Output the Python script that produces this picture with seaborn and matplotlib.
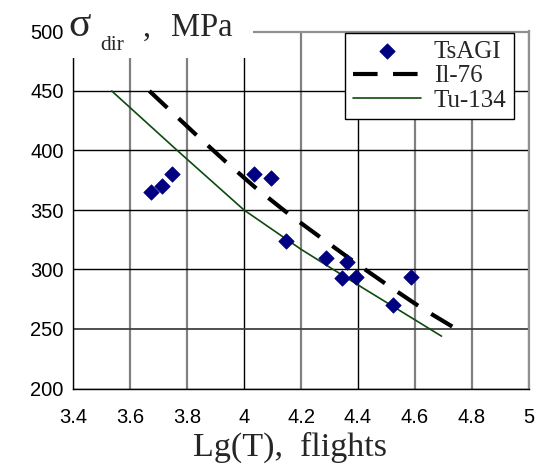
import matplotlib
matplotlib.use("Agg")
import matplotlib.pyplot as plt
import seaborn as sns
import pandas as pd
from matplotlib.patches import Rectangle

# ---- data ----
tsagi_x = [3.672, 3.711, 3.746, 4.035, 4.094, 4.148, 4.289, 4.362, 4.345, 4.394, 4.586, 4.522]
tsagi_y = [365, 370, 380, 380, 377, 324, 310, 306, 293, 294, 294, 270]
il76_x = [3.668, 3.833, 3.934, 4.039, 4.16, 4.274, 4.389, 4.509, 4.627, 4.752]
il76_y = [450, 413, 391, 369, 346, 326, 306, 286, 267, 249]
tu134_x = [3.536, 3.766, 4.0, 4.2, 4.4, 4.693]
tu134_y = [450, 400, 350, 317, 287, 244]
x_ticks = [3.4, 3.6, 3.8, 4.0, 4.2, 4.4, 4.6, 4.8, 5.0]
x_tick_labels = ["3.4", "3.6", "3.8", "4", "4.2", "4.4", "4.6", "4.8", "5"]
y_ticks = [200, 250, 300, 350, 400, 450, 500]
series_names = ["TsAGI", "Il-76", "Tu-134"]

sns.set_style("white")
plt.rcParams["font.family"] = ["Liberation Sans", "DejaVu Sans"]

W, H = 542, 469
fig = plt.figure(figsize=(W / 100, H / 100), dpi=100)
L, R, T, B = 73, 529, 31.5, 388.5
ax = fig.add_axes([L / W, 1 - B / H, (R - L) / W, (B - T) / H])

df_pts = pd.DataFrame({"x": tsagi_x, "y": tsagi_y})
df_il = pd.DataFrame({"x": il76_x, "y": il76_y})
df_tu = pd.DataFrame({"x": tu134_x, "y": tu134_y})

sns.lineplot(data=df_tu, x="x", y="y", ax=ax, color="#0d4a0d", lw=1.2,
             sort=False, estimator=None, label=series_names[2], zorder=3)
sns.lineplot(data=df_il, x="x", y="y", ax=ax, color="black", lw=3.0,
             sort=False, estimator=None, label=series_names[1], zorder=3)
il_line = ax.lines[-1]
il_line.set_dashes((5.9, 3.7))
il_line.set_solid_capstyle("butt")
il_line.set_dash_capstyle("butt")
sns.scatterplot(data=df_pts, x="x", y="y", ax=ax, marker="D", s=62,
                color="#000080", edgecolor="#000080", linewidth=0.5,
                label=series_names[0], zorder=4)

ax.set_xlim(3.4, 5.0)
ax.set_ylim(200, 500)
ax.set_xticks(x_ticks)
ax.set_xticklabels(x_tick_labels)
ax.set_yticks(y_ticks)
ax.set_xlabel("")
ax.set_ylabel("")
ax.tick_params(axis="both", which="major", direction="out", length=3.6,
               width=1, color="black", labelsize=14.5, labelcolor="black")
ax.tick_params(axis="x", pad=10.5)
ax.tick_params(axis="y", pad=3.2)

ax.set_axisbelow(True)
ax.grid(True, axis="both", lw=1)
for gl, t in zip(ax.get_xgridlines(), x_ticks):
    if abs(t - 4.0) < 1e-6 or abs(t - 4.4) < 1e-6:
        gl.set_color("black")
        gl.set_linewidth(1.0)
    else:
        gl.set_color("#808080")
        gl.set_linewidth(1.6)
for gl, t in zip(ax.get_ygridlines(), y_ticks):
    if t == 250:
        gl.set_color("#404040")
        gl.set_linewidth(1.3)
    else:
        gl.set_color("black")
        gl.set_linewidth(1.0)

for s in ["left", "bottom"]:
    ax.spines[s].set_color("black")
    ax.spines[s].set_linewidth(1.0)
for s in ["top", "right"]:
    ax.spines[s].set_color("#909090")
    ax.spines[s].set_linewidth(1.6)

# white area behind the axis title (covers grid/spines as in reference)
ax.add_patch(Rectangle((3.38, 477.5), 4.03 - 3.38, 30, facecolor="white",
                       edgecolor="none", clip_on=False, zorder=2.6))

serif = ["Liberation Serif", "DejaVu Serif"]
fig.text(68 / W, 1 - 36 / H, "σ", fontsize=30, family=serif, va="baseline", ha="left")
fig.text(100 / W, 1 - 50 / H, "dir", fontsize=15.5, family=serif, va="baseline", ha="left")
fig.text(143 / W, 1 - 36 / H, ",", fontsize=23, family=serif, va="baseline", ha="left")
fig.text(171 / W, 1 - 36 / H, "MPa", fontsize=23.5, family=serif, va="baseline", ha="left")

fig.text(290 / W, 1 - 456 / H, "Lg(T),  flights", fontsize=24.5, family=serif,
         va="baseline", ha="center")

# legend
handles, labels = ax.get_legend_handles_labels()
order = [labels.index(n) for n in series_names]
leg = ax.legend([handles[i] for i in order], [labels[i] for i in order],
                loc="upper right", bbox_to_anchor=(514 / W, 1 - 33 / H),
                bbox_transform=fig.transFigure, frameon=True, fancybox=False,
                edgecolor="black", framealpha=1, facecolor="white",
                prop={"family": serif, "size": 18}, handlelength=2.75,
                handletextpad=0.5, borderpad=0.3, labelspacing=0.08,
                borderaxespad=0)
leg.get_frame().set_linewidth(1.0)
leg.set_zorder(6)

fig.savefig("out.png", dpi=100)
